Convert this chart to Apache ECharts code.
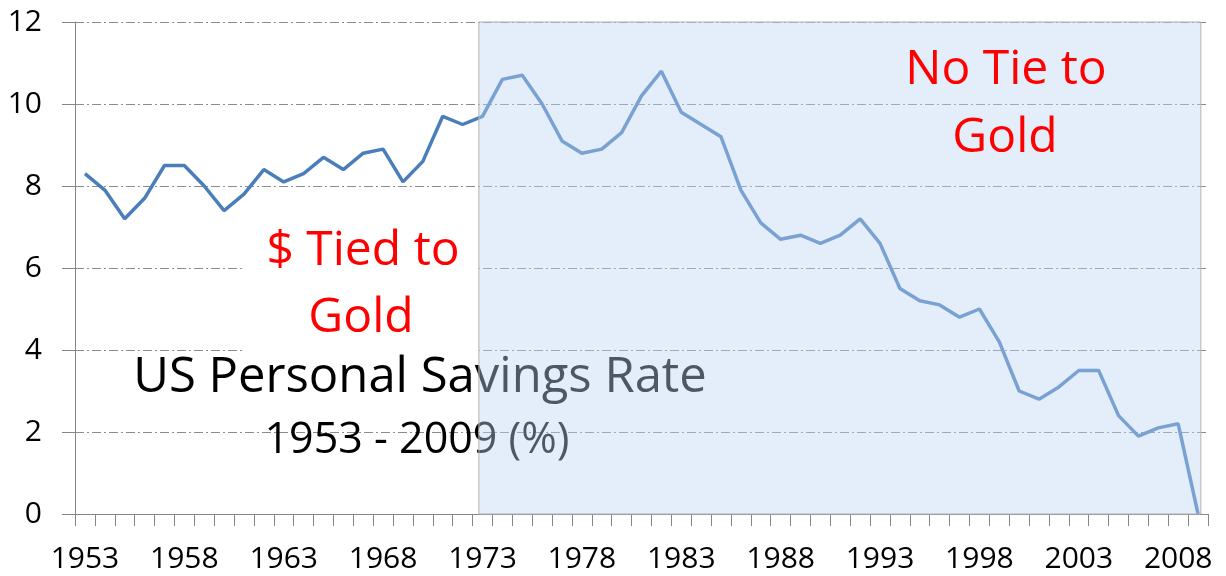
<!DOCTYPE html>
<html>
<head>
    <meta charset="utf-8">
    <title>US Personal Savings Rate</title>
    <script src="https://cdn.jsdelivr.net/npm/echarts@6/dist/echarts.min.js"></script>
    <style type="text/css">
        html, body {
            margin: 0;
            padding: 0;
            background: #ffffff;
        }
        #chart {
            width: 1226px;
            height: 576px;
        }
    </style>
</head>
<body>
<div id="chart"></div>
<script>
    // years on the x axis
    var years = [];
    for (var y = 1953; y <= 2009; y++) {
        years.push(String(y));
    }

    // savings rate (%), one per year
    var savingsRate = [
        8.3, 7.9, 7.2, 7.7, 8.5, 8.5, 8.0, 7.4, 7.8, 8.4,
        8.1, 8.3, 8.7, 8.4, 8.8, 8.9, 8.1, 8.6, 9.7, 9.5,
        9.7, 10.6, 10.7, 10.0, 9.1, 8.8, 8.9, 9.3, 10.2, 10.8,
        9.8, 9.5, 9.2, 7.9, 7.1, 6.7, 6.8, 6.6, 6.8, 7.2,
        6.6, 5.5, 5.2, 5.1, 4.8, 5.0, 4.2, 3.0, 2.8, 3.1,
        3.5, 3.5, 2.4, 1.9, 2.1, 2.2, 0
    ];

    // y axis ticks
    var yTicks = [0, 2, 4, 6, 8, 10, 12];

    // shaded "no tie to gold" period (in years, on a hidden value axis)
    var shadeSpan = [1972.82, 2009.14];

    var font = '"Open Sans", "Noto Sans", sans-serif';

    var chart = echarts.init(document.getElementById('chart'));

    var option = {
        backgroundColor: '#ffffff',
        animation: false,
        grid: {
            left: 75,
            right: 18,
            top: 22,
            bottom: 62
        },
        xAxis: [
            {
                type: 'category',
                data: years,
                boundaryGap: true,
                axisLine: {lineStyle: {color: '#868686', width: 1}},
                axisTick: {
                    show: true,
                    interval: 0,
                    length: 12,
                    lineStyle: {color: '#868686'}
                },
                axisLabel: {
                    interval: 4,
                    margin: 30,
                    color: '#000000',
                    fontFamily: font,
                    fontSize: 30
                },
                splitLine: {show: false}
            },
            {
                // hidden axis used only to place the shaded box
                type: 'value',
                min: 1952.5,
                max: 2009.5,
                show: false
            }
        ],
        yAxis: {
            type: 'value',
            min: yTicks[0],
            max: yTicks[yTicks.length - 1],
            interval: 2,
            axisLine: {show: true, lineStyle: {color: '#868686', width: 1}},
            axisTick: {show: true, length: 13, lineStyle: {color: '#868686'}},
            axisLabel: {
                margin: 33,
                color: '#000000',
                fontFamily: font,
                fontSize: 30
            },
            splitLine: {
                show: true,
                lineStyle: {color: '#8c8c8c', width: 1, type: [9, 3, 2, 3]}
            }
        },
        graphic: [
            {
                // white box behind "$ Tied to Gold"
                type: 'rect',
                z: 1,
                shape: {x: 245, y: 224, width: 234, height: 134},
                style: {fill: '#ffffff'}
            },
            {
                type: 'text',
                z: 2,
                x: 420,
                y: 378,
                style: {
                    text: 'US Personal Savings Rate',
                    font: '49px ' + font,
                    fill: '#000000',
                    align: 'center',
                    verticalAlign: 'middle'
                }
            },
            {
                type: 'text',
                z: 2,
                x: 417,
                y: 441,
                style: {
                    text: '1953 - 2009 (%)',
                    font: '43px ' + font,
                    fill: '#000000',
                    align: 'center',
                    verticalAlign: 'middle'
                }
            },
            {
                type: 'text',
                z: 20,
                x: 363,
                y: 251,
                style: {
                    text: '$ Tied to',
                    font: '48px ' + font,
                    fill: '#ff0000',
                    align: 'center',
                    verticalAlign: 'middle'
                }
            },
            {
                type: 'text',
                z: 20,
                x: 361,
                y: 318,
                style: {
                    text: 'Gold',
                    font: '48px ' + font,
                    fill: '#ff0000',
                    align: 'center',
                    verticalAlign: 'middle'
                }
            },
            {
                type: 'text',
                z: 20,
                x: 1006,
                y: 70,
                style: {
                    text: 'No Tie to',
                    font: '48px ' + font,
                    fill: '#ff0000',
                    align: 'center',
                    verticalAlign: 'middle'
                }
            },
            {
                type: 'text',
                z: 20,
                x: 1005,
                y: 138,
                style: {
                    text: 'Gold',
                    font: '48px ' + font,
                    fill: '#ff0000',
                    align: 'center',
                    verticalAlign: 'middle'
                }
            }
        ],
        series: [
            {
                name: 'Savings rate',
                type: 'line',
                z: 3,
                data: savingsRate,
                symbol: 'none',
                lineStyle: {color: '#4a7ebb', width: 3.5},
                itemStyle: {color: '#4a7ebb'}
            },
            {
                // semi transparent box drawn over line and text
                name: 'shade',
                type: 'line',
                xAxisIndex: 1,
                z: 10,
                data: [],
                silent: true,
                markArea: {
                    silent: true,
                    z: 10,
                    itemStyle: {
                        color: 'rgba(190, 214, 243, 0.41)',
                        borderColor: '#b4b4b4',
                        borderWidth: 1
                    },
                    data: [[{xAxis: shadeSpan[0]}, {xAxis: shadeSpan[1]}]]
                }
            }
        ]
    };

    chart.setOption(option);
</script>
</body>
</html>
